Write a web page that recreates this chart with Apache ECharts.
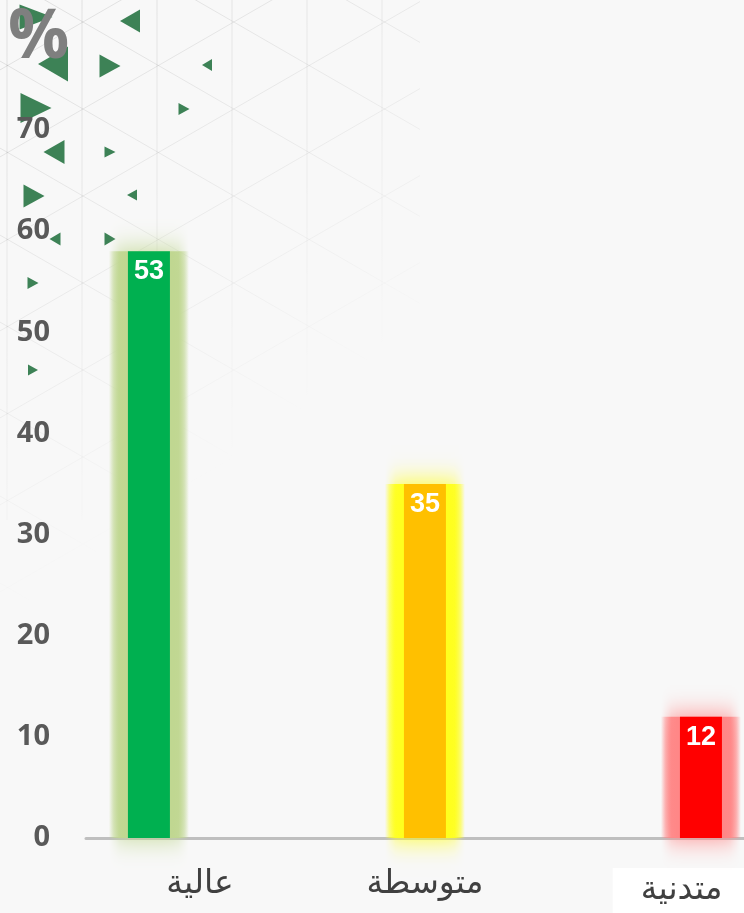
<!DOCTYPE html>
<html>
<head>
<meta charset="utf-8">
<script src="https://cdn.jsdelivr.net/npm/echarts@6/dist/echarts.min.js"></script>
<style>
  html, body { margin: 0; padding: 0; background: #f8f8f8; }
  #chart { width: 744px; height: 913px; }
</style>
</head>
<body>
<div id="chart"></div>
<script>
const categories = ['عالية', 'متوسطة', 'متدنية'];
const barHeights = [58, 35, 12];        // height as drawn against the axis
const barLabels = ['53', '35', '12'];   // number printed on each bar
const yTicks = [0, 10, 20, 30, 40, 50, 60, 70];

const barColors = ['#00b050', '#ffc000', '#ff0000'];
const glowRgb = ['192,215,145', '255,255,30', '255,135,135'];

function glowFill(rgb) {
  return new echarts.graphic.LinearGradient(0, 0, 1, 0, [
    { offset: 0, color: 'rgba(' + rgb + ',0)' },
    { offset: 0.06, color: 'rgba(' + rgb + ',0.5)' },
    { offset: 0.13, color: 'rgba(' + rgb + ',0.92)' },
    { offset: 0.2, color: 'rgba(' + rgb + ',1)' },
    { offset: 0.8, color: 'rgba(' + rgb + ',1)' },
    { offset: 0.87, color: 'rgba(' + rgb + ',0.92)' },
    { offset: 0.94, color: 'rgba(' + rgb + ',0.5)' },
    { offset: 1, color: 'rgba(' + rgb + ',0)' }
  ]);
}

// decorative triangles in the top-left corner of the background
function tri(cx, cy, w, h, dir) {
  const pts = dir > 0
    ? [[cx - w / 2, cy - h / 2], [cx + w / 2, cy], [cx - w / 2, cy + h / 2]]
    : [[cx + w / 2, cy - h / 2], [cx - w / 2, cy], [cx + w / 2, cy + h / 2]];
  return { type: 'polygon', silent: true, z: -1, shape: { points: pts }, style: { fill: '#3d8256' } };
}
const deco = [
  tri(36, 17, 33, 25, 1), tri(53, 64, 30, 35, -1), tri(130, 21, 20, 23, -1), tri(110, 66, 21, 23, 1),
  tri(207, 65, 10, 12, -1), tri(36, 108, 31, 30, 1), tri(184, 109, 11, 12, 1), tri(54, 152, 21, 24, -1),
  tri(110, 152, 11, 11, 1), tri(34, 196, 21, 23, 1), tri(132, 195, 10, 11, -1), tri(55, 239, 11, 13, -1),
  tri(110, 239, 11, 13, 1), tri(33, 283, 11, 12, 1), tri(33, 370, 10, 11, 1)
];

// faint triangular lattice behind the top-left corner, fading out diagonally
const fade = {
  type: 'linear', global: true, x: 0, y: 0, x2: 300, y2: 420,
  colorStops: [{ offset: 0, color: 'rgba(0,0,0,0.10)' }, { offset: 0.6, color: 'rgba(0,0,0,0.05)' }, { offset: 1, color: 'rgba(0,0,0,0)' }]
};
const lattice = [];
for (let x = 7; x <= 400; x += 75) {
  lattice.push({ type: 'line', silent: true, z: -2, shape: { x1: x, y1: 0, x2: x, y2: 520 }, style: { stroke: fade, lineWidth: 1 } });
}
for (let k = -6; k <= 8; k++) {
  const y0 = 22 + k * 87 - 0.577 * 83;
  lattice.push({ type: 'line', silent: true, z: -2, shape: { x1: 0, y1: y0, x2: 420, y2: y0 + 0.577 * 420 }, style: { stroke: fade, lineWidth: 1 } });
  lattice.push({ type: 'line', silent: true, z: -2, shape: { x1: 0, y1: y0 + 0.577 * 166, x2: 420, y2: y0 + 0.577 * 166 - 0.577 * 420 }, style: { stroke: fade, lineWidth: 1 } });
}

const xRange = { min: -0.228, max: 2.156 };
const chart = echarts.init(document.getElementById('chart'));
chart.setOption({
  backgroundColor: '#f8f8f8',
  animation: false,
  graphic: lattice.concat(deco),
  title: {
    text: '%', left: 3, top: 0,
    textStyle: { color: '#7f7f7f', fontSize: 68, fontWeight: 'bold', fontFamily: 'Open Sans' }
  },
  grid: { left: 86, right: 0, top: 130, bottom: 75, outerBoundsMode: 'none' },
  xAxis: [{
    type: 'value',
    min: xRange.min, max: xRange.max,
    axisLine: { show: true, lineStyle: { color: '#bfbfbf', width: 3 } },
    axisTick: { show: false },
    splitLine: { show: false },
    axisLabel: {
      customValues: [0.185, 1, 1.93],
      margin: 30,
      color: '#404040',
      fontSize: 33,
      fontFamily: 'DejaVu Sans',
      formatter: v => {
        const i = Math.round(v);
        return i === 2 ? '{w|' + categories[i] + '}' : categories[i];
      },
      rich: {
        w: {
          color: '#404040', fontSize: 33, fontFamily: 'DejaVu Sans',
          backgroundColor: '#ffffff', padding: [6, 28, 14, 28]
        }
      }
    }
  }, {
    // twin axis so the glow bars centre on the same positions
    type: 'value', show: false,
    min: xRange.min, max: xRange.max
  }],
  yAxis: {
    type: 'value',
    min: yTicks[0], max: yTicks[yTicks.length - 1], interval: 10,
    axisLine: { show: false },
    axisTick: { show: false },
    splitLine: { show: false },
    axisLabel: {
      margin: 36, color: '#595959', fontSize: 29, fontWeight: 'bold', fontFamily: 'Open Sans'
    }
  },
  series: [{
    name: 'glow',
    type: 'bar',
    xAxisIndex: 1,
    barWidth: 80,
    z: 1,
    silent: true,
    data: barHeights.map((v, i) => ({
      value: [i, v],
      itemStyle: { color: glowFill(glowRgb[i]), shadowColor: 'rgba(' + glowRgb[i] + ',1)', shadowBlur: 26 }
    }))
  }, {
    type: 'bar',
    barWidth: 42,
    z: 2,
    data: barHeights.map((v, i) => ({ value: [i, v], itemStyle: { color: barColors[i] } })),
    label: {
      show: true,
      position: 'insideTop',
      distance: 7,
      color: '#ffffff',
      fontSize: 27,
      fontWeight: 'bold',
      fontFamily: 'Liberation Sans',
      formatter: p => barLabels[p.dataIndex]
    }
  }]
});
</script>
</body>
</html>
